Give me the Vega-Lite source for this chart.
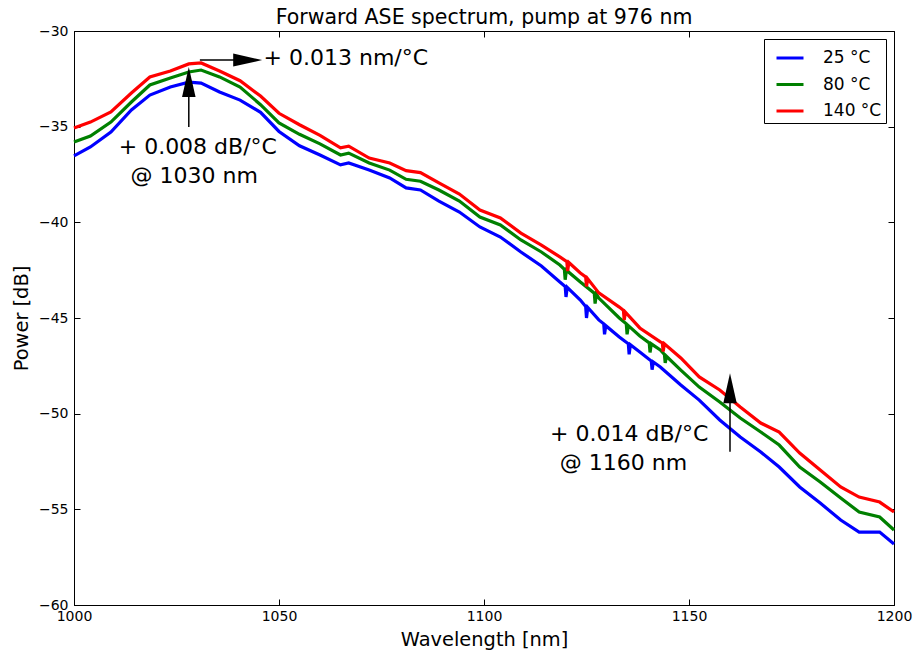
{
  "$schema": "https://vega.github.io/schema/vega-lite/v6.json",
  "autosize": {"type": "none"},
  "padding": {"left": 74, "top": 31, "right": 21, "bottom": 49},
  "width": 820,
  "height": 574,
  "title": {"text": "Forward ASE spectrum, pump at 976 nm", "fontSize": 20.5, "fontWeight": "normal", "font": "DejaVu Sans", "color": "black", "anchor": "middle", "offset": -4},
  "config": {
    "view": {"stroke": "black", "strokeWidth": 1},
    "axis": {"labelFont": "DejaVu Sans", "labelFontSize": 14, "labelColor": "black", "labelFlush": false, "titleFont": "DejaVu Sans", "titleFontSize": 19.4, "titleFontWeight": "normal", "titleColor": "black", "tickColor": "black", "domainColor": "black", "grid": false, "tickSize": -6},
    "legend": {"orient": "top-right", "offset": 8, "strokeColor": "black", "fillColor": "white", "padding": 4, "symbolOffset": 7, "symbolType": "stroke", "symbolSize": 729, "symbolStrokeWidth": 3, "labelFont": "DejaVu Sans", "labelFontSize": 17, "labelColor": "black", "labelOffset": 18, "rowPadding": 3.5, "cornerRadius": 0}
  },
  "datasets": {
    "spectra": [
      {"wl": 1000, "p": -36.53, "s": "25 °C"}, {"wl": 1004, "p": -36.06, "s": "25 °C"}, {"wl": 1009, "p": -35.28, "s": "25 °C"}, {"wl": 1014, "p": -34.13, "s": "25 °C"}, {"wl": 1018.5, "p": -33.35, "s": "25 °C"}, {"wl": 1023.5, "p": -32.93, "s": "25 °C"}, {"wl": 1028, "p": -32.67, "s": "25 °C"}, {"wl": 1031, "p": -32.72, "s": "25 °C"}, {"wl": 1035.5, "p": -33.19, "s": "25 °C"}, {"wl": 1040.5, "p": -33.61, "s": "25 °C"}, {"wl": 1045.5, "p": -34.25, "s": "25 °C"}, {"wl": 1050, "p": -35.25, "s": "25 °C"}, {"wl": 1055, "p": -36.0, "s": "25 °C"}, {"wl": 1060, "p": -36.48, "s": "25 °C"}, {"wl": 1065, "p": -37.0, "s": "25 °C"}, {"wl": 1067, "p": -36.9, "s": "25 °C"}, {"wl": 1072, "p": -37.27, "s": "25 °C"}, {"wl": 1077, "p": -37.68, "s": "25 °C"}, {"wl": 1081, "p": -38.2, "s": "25 °C"}, {"wl": 1084.5, "p": -38.31, "s": "25 °C"}, {"wl": 1089, "p": -38.89, "s": "25 °C"}, {"wl": 1094, "p": -39.46, "s": "25 °C"}, {"wl": 1099, "p": -40.24, "s": "25 °C"}, {"wl": 1104, "p": -40.77, "s": "25 °C"}, {"wl": 1109, "p": -41.55, "s": "25 °C"}, {"wl": 1114, "p": -42.28, "s": "25 °C"}, {"wl": 1118.5, "p": -43.12, "s": "25 °C"}, {"wl": 1119.8, "p": -43.35, "s": "25 °C"}, {"wl": 1120, "p": -43.9, "s": "25 °C"}, {"wl": 1120.3, "p": -43.4, "s": "25 °C"}, {"wl": 1123.5, "p": -44.06, "s": "25 °C"}, {"wl": 1124.8, "p": -44.4, "s": "25 °C"}, {"wl": 1125, "p": -45.0, "s": "25 °C"}, {"wl": 1125.3, "p": -44.45, "s": "25 °C"}, {"wl": 1128, "p": -45.1, "s": "25 °C"}, {"wl": 1129.2, "p": -45.3, "s": "25 °C"}, {"wl": 1129.4, "p": -45.85, "s": "25 °C"}, {"wl": 1129.7, "p": -45.4, "s": "25 °C"}, {"wl": 1133, "p": -45.99, "s": "25 °C"}, {"wl": 1135.2, "p": -46.35, "s": "25 °C"}, {"wl": 1135.4, "p": -46.9, "s": "25 °C"}, {"wl": 1135.7, "p": -46.4, "s": "25 °C"}, {"wl": 1138, "p": -46.78, "s": "25 °C"}, {"wl": 1140.8, "p": -47.25, "s": "25 °C"}, {"wl": 1141, "p": -47.7, "s": "25 °C"}, {"wl": 1141.3, "p": -47.3, "s": "25 °C"}, {"wl": 1143, "p": -47.56, "s": "25 °C"}, {"wl": 1148, "p": -48.5, "s": "25 °C"}, {"wl": 1152.5, "p": -49.29, "s": "25 °C"}, {"wl": 1157.5, "p": -50.33, "s": "25 °C"}, {"wl": 1162.5, "p": -51.22, "s": "25 °C"}, {"wl": 1167.5, "p": -52.0, "s": "25 °C"}, {"wl": 1172, "p": -52.79, "s": "25 °C"}, {"wl": 1177, "p": -53.83, "s": "25 °C"}, {"wl": 1182, "p": -54.67, "s": "25 °C"}, {"wl": 1187, "p": -55.56, "s": "25 °C"}, {"wl": 1191.5, "p": -56.19, "s": "25 °C"}, {"wl": 1196.5, "p": -56.19, "s": "25 °C"}, {"wl": 1200, "p": -56.81, "s": "25 °C"},
      {"wl": 1000, "p": -35.8, "s": "80 °C"}, {"wl": 1004, "p": -35.49, "s": "80 °C"}, {"wl": 1009, "p": -34.76, "s": "80 °C"}, {"wl": 1014, "p": -33.71, "s": "80 °C"}, {"wl": 1018.5, "p": -32.82, "s": "80 °C"}, {"wl": 1023.5, "p": -32.46, "s": "80 °C"}, {"wl": 1028, "p": -32.14, "s": "80 °C"}, {"wl": 1031, "p": -32.04, "s": "80 °C"}, {"wl": 1035.5, "p": -32.4, "s": "80 °C"}, {"wl": 1040.5, "p": -32.93, "s": "80 °C"}, {"wl": 1045.5, "p": -33.85, "s": "80 °C"}, {"wl": 1050, "p": -34.8, "s": "80 °C"}, {"wl": 1055, "p": -35.4, "s": "80 °C"}, {"wl": 1060, "p": -35.9, "s": "80 °C"}, {"wl": 1065, "p": -36.48, "s": "80 °C"}, {"wl": 1067, "p": -36.38, "s": "80 °C"}, {"wl": 1072, "p": -36.9, "s": "80 °C"}, {"wl": 1077, "p": -37.27, "s": "80 °C"}, {"wl": 1081, "p": -37.75, "s": "80 °C"}, {"wl": 1084.5, "p": -37.85, "s": "80 °C"}, {"wl": 1089, "p": -38.31, "s": "80 °C"}, {"wl": 1094, "p": -38.89, "s": "80 °C"}, {"wl": 1099, "p": -39.72, "s": "80 °C"}, {"wl": 1104, "p": -40.14, "s": "80 °C"}, {"wl": 1109, "p": -40.92, "s": "80 °C"}, {"wl": 1114, "p": -41.55, "s": "80 °C"}, {"wl": 1118.5, "p": -42.23, "s": "80 °C"}, {"wl": 1119.6, "p": -42.45, "s": "80 °C"}, {"wl": 1119.8, "p": -43.0, "s": "80 °C"}, {"wl": 1120.1, "p": -42.5, "s": "80 °C"}, {"wl": 1123.5, "p": -43.12, "s": "80 °C"}, {"wl": 1126.9, "p": -43.7, "s": "80 °C"}, {"wl": 1127.1, "p": -44.25, "s": "80 °C"}, {"wl": 1127.4, "p": -43.75, "s": "80 °C"}, {"wl": 1128, "p": -43.96, "s": "80 °C"}, {"wl": 1133, "p": -45.0, "s": "80 °C"}, {"wl": 1134.7, "p": -45.3, "s": "80 °C"}, {"wl": 1134.9, "p": -45.85, "s": "80 °C"}, {"wl": 1135.2, "p": -45.4, "s": "80 °C"}, {"wl": 1138, "p": -45.94, "s": "80 °C"}, {"wl": 1140.3, "p": -46.3, "s": "80 °C"}, {"wl": 1140.5, "p": -46.8, "s": "80 °C"}, {"wl": 1140.8, "p": -46.35, "s": "80 °C"}, {"wl": 1143, "p": -46.67, "s": "80 °C"}, {"wl": 1144, "p": -46.9, "s": "80 °C"}, {"wl": 1144.2, "p": -47.35, "s": "80 °C"}, {"wl": 1144.5, "p": -47.0, "s": "80 °C"}, {"wl": 1148, "p": -47.72, "s": "80 °C"}, {"wl": 1152.5, "p": -48.61, "s": "80 °C"}, {"wl": 1157.5, "p": -49.39, "s": "80 °C"}, {"wl": 1162.5, "p": -50.23, "s": "80 °C"}, {"wl": 1167.5, "p": -50.96, "s": "80 °C"}, {"wl": 1172, "p": -51.64, "s": "80 °C"}, {"wl": 1177, "p": -52.79, "s": "80 °C"}, {"wl": 1182, "p": -53.57, "s": "80 °C"}, {"wl": 1187, "p": -54.41, "s": "80 °C"}, {"wl": 1191.5, "p": -55.14, "s": "80 °C"}, {"wl": 1196.5, "p": -55.4, "s": "80 °C"}, {"wl": 1200, "p": -56.08, "s": "80 °C"},
      {"wl": 1000, "p": -35.07, "s": "140 °C"}, {"wl": 1004, "p": -34.76, "s": "140 °C"}, {"wl": 1009, "p": -34.23, "s": "140 °C"}, {"wl": 1014, "p": -33.24, "s": "140 °C"}, {"wl": 1018.5, "p": -32.4, "s": "140 °C"}, {"wl": 1023.5, "p": -32.09, "s": "140 °C"}, {"wl": 1028, "p": -31.72, "s": "140 °C"}, {"wl": 1031, "p": -31.67, "s": "140 °C"}, {"wl": 1035.5, "p": -32.09, "s": "140 °C"}, {"wl": 1040.5, "p": -32.6, "s": "140 °C"}, {"wl": 1045.5, "p": -33.4, "s": "140 °C"}, {"wl": 1050, "p": -34.3, "s": "140 °C"}, {"wl": 1055, "p": -34.9, "s": "140 °C"}, {"wl": 1060, "p": -35.45, "s": "140 °C"}, {"wl": 1065, "p": -36.11, "s": "140 °C"}, {"wl": 1067, "p": -36.02, "s": "140 °C"}, {"wl": 1072, "p": -36.64, "s": "140 °C"}, {"wl": 1077, "p": -36.9, "s": "140 °C"}, {"wl": 1081, "p": -37.3, "s": "140 °C"}, {"wl": 1084.5, "p": -37.4, "s": "140 °C"}, {"wl": 1089, "p": -37.94, "s": "140 °C"}, {"wl": 1094, "p": -38.52, "s": "140 °C"}, {"wl": 1099, "p": -39.36, "s": "140 °C"}, {"wl": 1104, "p": -39.77, "s": "140 °C"}, {"wl": 1109, "p": -40.56, "s": "140 °C"}, {"wl": 1114, "p": -41.19, "s": "140 °C"}, {"wl": 1118.5, "p": -41.81, "s": "140 °C"}, {"wl": 1120.2, "p": -42.05, "s": "140 °C"}, {"wl": 1120.4, "p": -42.55, "s": "140 °C"}, {"wl": 1120.7, "p": -42.1, "s": "140 °C"}, {"wl": 1123.5, "p": -42.65, "s": "140 °C"}, {"wl": 1124.8, "p": -42.85, "s": "140 °C"}, {"wl": 1125, "p": -43.35, "s": "140 °C"}, {"wl": 1125.3, "p": -42.95, "s": "140 °C"}, {"wl": 1128, "p": -43.69, "s": "140 °C"}, {"wl": 1133, "p": -44.43, "s": "140 °C"}, {"wl": 1134, "p": -44.6, "s": "140 °C"}, {"wl": 1134.2, "p": -45.1, "s": "140 °C"}, {"wl": 1134.5, "p": -44.7, "s": "140 °C"}, {"wl": 1138, "p": -45.52, "s": "140 °C"}, {"wl": 1143, "p": -46.25, "s": "140 °C"}, {"wl": 1143.5, "p": -46.3, "s": "140 °C"}, {"wl": 1143.7, "p": -46.75, "s": "140 °C"}, {"wl": 1144, "p": -46.35, "s": "140 °C"}, {"wl": 1148, "p": -47.09, "s": "140 °C"}, {"wl": 1152.5, "p": -48.08, "s": "140 °C"}, {"wl": 1157.5, "p": -48.76, "s": "140 °C"}, {"wl": 1162.5, "p": -49.65, "s": "140 °C"}, {"wl": 1167.5, "p": -50.49, "s": "140 °C"}, {"wl": 1172, "p": -50.96, "s": "140 °C"}, {"wl": 1177, "p": -52.06, "s": "140 °C"}, {"wl": 1182, "p": -52.94, "s": "140 °C"}, {"wl": 1187, "p": -53.83, "s": "140 °C"}, {"wl": 1191.5, "p": -54.36, "s": "140 °C"}, {"wl": 1196.5, "p": -54.62, "s": "140 °C"}, {"wl": 1200, "p": -55.14, "s": "140 °C"}
    ],
    "shafts": [
      {"x": 1028, "y": -35.02, "y2": -32.6, "x2": 1028},
      {"x": 1030.7, "y": -31.52, "y2": -31.52, "x2": 1044},
      {"x": 1160, "y": -51.99, "y2": -48.6, "x2": 1160}
    ],
    "upheads": [
      {"x": 1028, "y": -31.88},
      {"x": 1160, "y": -47.89}
    ],
    "rightheads": [
      {"x": 1045.9, "y": -31.52}
    ],
    "notes": [
      {"x": 1030.2, "y": -36.06, "t": "+ 0.008 dB/°C"},
      {"x": 1029.3, "y": -37.58, "t": "@ 1030 nm"},
      {"x": 1135.4, "y": -51.06, "t": "+ 0.014 dB/°C"},
      {"x": 1134.0, "y": -52.58, "t": "@ 1160 nm"},
      {"x": 1066.3, "y": -31.41, "t": "+ 0.013 nm/°C"}
    ]
  },
  "layer": [
    {
      "data": {"name": "spectra"},
      "mark": {"type": "line", "strokeWidth": 3.2, "interpolate": "linear"},
      "encoding": {
        "x": {"field": "wl", "type": "quantitative", "scale": {"domain": [1000, 1200], "nice": false, "zero": false}, "axis": {"title": "Wavelength [nm]", "values": [1000, 1050, 1100, 1150, 1200], "format": "d", "labelPadding": 10, "titlePadding": 7, "orient": "bottom"}},
        "y": {"field": "p", "type": "quantitative", "scale": {"domain": [-60, -30], "nice": false, "zero": false}, "axis": {"title": "Power [dB]", "values": [-60, -55, -50, -45, -40, -35, -30], "format": "d", "labelPadding": 12, "titlePadding": 7, "orient": "left"}},
        "color": {"field": "s", "type": "nominal", "scale": {"domain": ["25 °C", "80 °C", "140 °C"], "range": ["#0000ff", "#008000", "#ff0000"]}, "legend": {"title": null}}
      }
    },
    {
      "data": {"name": "shafts"},
      "mark": {"type": "rule", "color": "black", "strokeWidth": 1.5},
      "encoding": {
        "x": {"field": "x", "type": "quantitative", "axis": {"orient": "top", "labels": false, "title": null, "values": [1050, 1100, 1150]}},
        "x2": {"field": "x2"},
        "y": {"field": "y", "type": "quantitative", "axis": {"orient": "right", "labels": false, "title": null, "values": [-55, -50, -45, -40, -35]}},
        "y2": {"field": "y2"}
      }
    },
    {
      "data": {"name": "upheads"},
      "mark": {"type": "point", "shape": "M0,0L0.45,2L-0.45,2Z", "size": 900, "filled": true, "color": "black", "opacity": 1},
      "encoding": {
        "x": {"field": "x", "type": "quantitative", "axis": null},
        "y": {"field": "y", "type": "quantitative", "axis": null}
      }
    },
    {
      "data": {"name": "rightheads"},
      "mark": {"type": "point", "shape": "M0,0L-2,-0.45L-2,0.45Z", "size": 841, "filled": true, "color": "black", "opacity": 1},
      "encoding": {
        "x": {"field": "x", "type": "quantitative", "axis": null},
        "y": {"field": "y", "type": "quantitative", "axis": null}
      }
    },
    {
      "data": {"name": "notes"},
      "mark": {"type": "text", "font": "DejaVu Sans", "fontSize": 22, "color": "black", "align": "center", "baseline": "middle"},
      "encoding": {
        "x": {"field": "x", "type": "quantitative", "axis": null},
        "y": {"field": "y", "type": "quantitative", "axis": null},
        "text": {"field": "t"}
      }
    }
  ],
  "resolve": {"axis": {"x": "independent", "y": "independent"}}
}
